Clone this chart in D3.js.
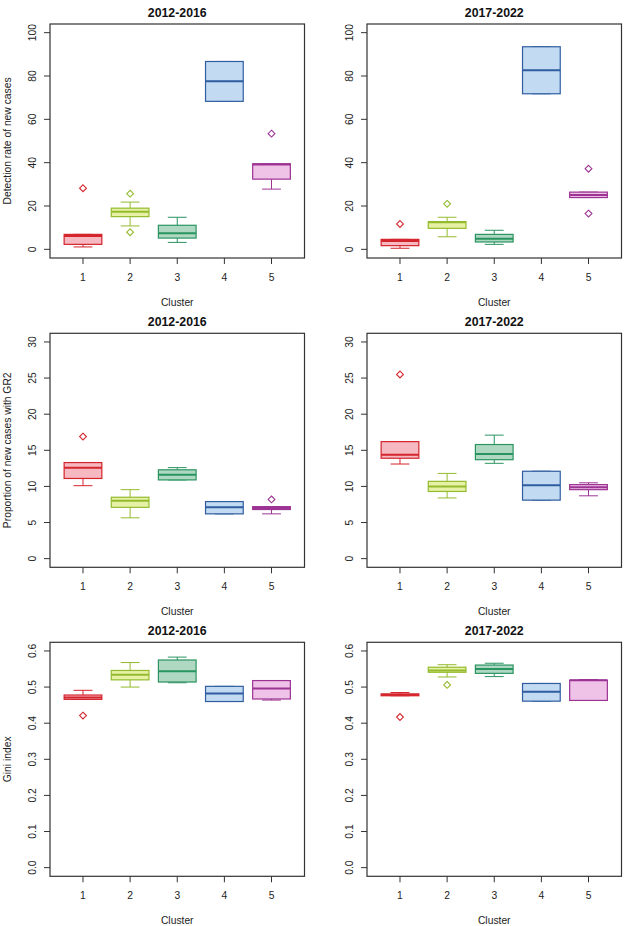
<!DOCTYPE html>
<html>
<head>
<meta charset="utf-8">
<script src="https://cdn.jsdelivr.net/npm/d3@7"></script>
<style>
  html, body { margin: 0; padding: 0; background: #fff; }
  svg { display: block; font-family: "Liberation Sans", Arial, sans-serif; }
</style>
</head>
<body>
<svg id="chart" width="624" height="926"></svg>
<script>
// ---------------- DATA ----------------
const clusters = ["1", "2", "3", "4", "5"];
const periods = ["2012-2016", "2017-2022"];
const metricLabels = ["Detection rate of new cases", "Proportion of new cases with GR2", "Gini index"];
const xLabel = "Cluster";

// box stats per cluster: [lower whisker, Q1, median, Q3, upper whisker]
const detection2012 = [[1.1, 2.3, 6.2, 6.9, 6.9], [10.8, 15.1, 17.3, 19.0, 21.8], [3.2, 5.2, 7.4, 11.1, 14.8], [68.3, 68.3, 77.6, 86.7, 86.7], [27.8, 32.4, 39.2, 39.5, 39.5]];
const detection2017 = [[0.5, 1.7, 3.8, 4.6, 4.6], [5.8, 9.7, 12.5, 12.8, 14.8], [2.3, 3.4, 4.9, 6.9, 8.8], [71.8, 71.8, 82.7, 93.5, 93.5], [23.9, 23.9, 25.1, 26.4, 26.4]];
const gr2_2012 = [[10.1, 11.1, 12.6, 13.3, 13.3], [5.65, 7.1, 8.0, 8.5, 9.55], [10.9, 10.9, 11.6, 12.3, 12.6], [6.2, 6.2, 7.1, 7.9, 7.9], [6.2, 6.8, 7.0, 7.2, 7.2]];
const gr2_2017 = [[13.1, 13.9, 14.4, 16.2, 16.2], [8.4, 9.3, 10.0, 10.7, 11.8], [13.2, 13.7, 14.5, 15.8, 17.1], [8.1, 8.1, 10.15, 12.1, 12.1], [8.7, 9.55, 9.9, 10.25, 10.5]];
const gini2012 = [[0.466, 0.466, 0.471, 0.478, 0.491], [0.500, 0.520, 0.534, 0.546, 0.568], [0.512, 0.514, 0.544, 0.575, 0.583], [0.460, 0.460, 0.482, 0.502, 0.502], [0.464, 0.467, 0.496, 0.518, 0.518]];
const gini2017 = [[0.476, 0.476, 0.479, 0.481, 0.485], [0.528, 0.541, 0.546, 0.555, 0.562], [0.529, 0.538, 0.550, 0.561, 0.566], [0.461, 0.461, 0.487, 0.510, 0.510], [0.463, 0.463, 0.519, 0.519, 0.521]];

// outliers per cluster
const detection2012Out = [[28.2], [25.7, 7.9], [], [], [53.4]];
const detection2017Out = [[11.7], [21.0], [], [], [37.2, 16.5]];
const gr2_2012Out = [[16.9], [], [], [], [8.2]];
const gr2_2017Out = [[25.5], [], [], [], []];
const gini2012Out = [[0.421], [], [], [], []];
const gini2017Out = [[0.417], [0.506], [], [], []];

// axis ticks
const detectionTicks = [0, 20, 40, 60, 80, 100];
const gr2Ticks = [0, 5, 10, 15, 20, 25, 30];
const giniTicks = [0.0, 0.1, 0.2, 0.3, 0.4, 0.5, 0.6];
const giniTickLabels = ["0.0", "0.1", "0.2", "0.3", "0.4", "0.5", "0.6"];

// axis limits (as set in the plot)
const detectionLim = [0, 100];
const gr2Lim = [0, 30];
const giniLim = [0, 0.6];

// colours per cluster
const strokeColors = ["#d4242c", "#94bb2e", "#2a9460", "#2f5d9f", "#9c3494"];
const fillColors = ["#f6b9c2", "#e6f1a6", "#afd8c3", "#c2dbf2", "#efc2e8"];

// ---------------- LAYOUT ----------------
const rows = [
  { stats: [detection2012, detection2017], outs: [detection2012Out, detection2017Out], lim: detectionLim, ticks: detectionTicks, tickLabels: detectionTicks.map(String), label: metricLabels[0] },
  { stats: [gr2_2012, gr2_2017], outs: [gr2_2012Out, gr2_2017Out], lim: gr2Lim, ticks: gr2Ticks, tickLabels: gr2Ticks.map(String), label: metricLabels[1] },
  { stats: [gini2012, gini2017], outs: [gini2012Out, gini2017Out], lim: giniLim, ticks: giniTicks, tickLabels: giniTickLabels, label: metricLabels[2] }
];
const rowTops = [24, 333.3, 642.3];
const plotH = 234;
const colLefts = [50, 367];
const plotW = 254.5;
const axisColor = "#333";

const svg = d3.select("#chart");

rows.forEach((row, ri) => {
  periods.forEach((period, ci) => {
    const left = colLefts[ci], top = rowTops[ri];
    const g = svg.append("g").attr("transform", `translate(${left},${top})`);

    // R-style 4% extension
    const n = clusters.length;
    const xr = [0.5, n + 0.5];
    const xe = (xr[1] - xr[0]) * 0.04;
    const x = d3.scaleLinear().domain([xr[0] - xe, xr[1] + xe]).range([0, plotW]);
    const ye = (row.lim[1] - row.lim[0]) * 0.04;
    const y = d3.scaleLinear().domain([row.lim[0] - ye, row.lim[1] + ye]).range([plotH, 0]);

    const step = x(2) - x(1);
    const bw = step * 0.8;
    const sw = bw * 0.5;

    const stats = row.stats[ci];
    const outs = row.outs[ci];

    clusters.forEach((c, k) => {
      const cx = x(k + 1);
      const [lo, q1, med, q3, hi] = stats[k];
      const col = strokeColors[k];
      const bg = g.append("g");
      // whiskers
      if (hi > q3) {
        bg.append("line").attr("x1", cx).attr("x2", cx).attr("y1", y(q3)).attr("y2", y(hi)).attr("stroke", col).attr("stroke-width", 1);
      }
      if (lo < q1) {
        bg.append("line").attr("x1", cx).attr("x2", cx).attr("y1", y(q1)).attr("y2", y(lo)).attr("stroke", col).attr("stroke-width", 1);
      }
      // staples
      bg.append("line").attr("x1", cx - sw / 2).attr("x2", cx + sw / 2).attr("y1", y(hi)).attr("y2", y(hi)).attr("stroke", col).attr("stroke-width", 1);
      bg.append("line").attr("x1", cx - sw / 2).attr("x2", cx + sw / 2).attr("y1", y(lo)).attr("y2", y(lo)).attr("stroke", col).attr("stroke-width", 1);
      // box
      bg.append("rect").attr("x", cx - bw / 2).attr("y", y(q3)).attr("width", bw).attr("height", Math.max(0.5, y(q1) - y(q3)))
        .attr("fill", fillColors[k]).attr("stroke", col).attr("stroke-width", 1.2);
      // median
      bg.append("line").attr("x1", cx - bw / 2).attr("x2", cx + bw / 2).attr("y1", y(med)).attr("y2", y(med)).attr("stroke", col).attr("stroke-width", 2);
      // outliers (diamonds)
      outs[k].forEach(v => {
        const oy = y(v), r = 3.4;
        bg.append("path").attr("d", `M${cx},${oy - r}L${cx + r},${oy}L${cx},${oy + r}L${cx - r},${oy}Z`)
          .attr("fill", "none").attr("stroke", col).attr("stroke-width", 1.1);
      });
    });

    // frame
    g.append("rect").attr("x", 0).attr("y", 0).attr("width", plotW).attr("height", plotH)
      .attr("fill", "none").attr("stroke", axisColor).attr("stroke-width", 1.2);

    // y axis ticks
    row.ticks.forEach((t, i) => {
      g.append("line").attr("x1", -6).attr("x2", 0).attr("y1", y(t)).attr("y2", y(t)).attr("stroke", axisColor).attr("stroke-width", 1);
      g.append("text").attr("transform", `translate(-17.5,${y(t)}) rotate(-90)`)
        .attr("text-anchor", "middle").attr("dominant-baseline", "central")
        .attr("font-size", 10.3).attr("fill", "#222").text(row.tickLabels[i]);
    });
    // x axis ticks
    clusters.forEach((c, k) => {
      g.append("line").attr("x1", x(k + 1)).attr("x2", x(k + 1)).attr("y1", plotH).attr("y2", plotH + 6).attr("stroke", axisColor).attr("stroke-width", 1);
      g.append("text").attr("x", x(k + 1)).attr("y", plotH + 19.5)
        .attr("text-anchor", "middle").attr("dominant-baseline", "central")
        .attr("font-size", 10.3).attr("fill", "#222").text(c);
    });
    // x label
    g.append("text").attr("x", plotW / 2).attr("y", plotH + 44).attr("text-anchor", "middle").attr("dominant-baseline", "central")
      .attr("font-size", 10.3).attr("fill", "#222").text(xLabel);
    // title
    g.append("text").attr("x", plotW / 2).attr("y", -11).attr("text-anchor", "middle").attr("dominant-baseline", "central")
      .attr("font-size", 12.3).attr("font-weight", "bold").attr("fill", "#111").text(period);
    // y label (left column only)
    if (ci === 0) {
      g.append("text").attr("transform", `translate(${7 - left},${plotH / 2}) rotate(-90)`)
        .attr("text-anchor", "middle").attr("dominant-baseline", "central")
        .attr("font-size", 10.3).attr("fill", "#222").text(row.label);
    }
  });
});
</script>
</body>
</html>
